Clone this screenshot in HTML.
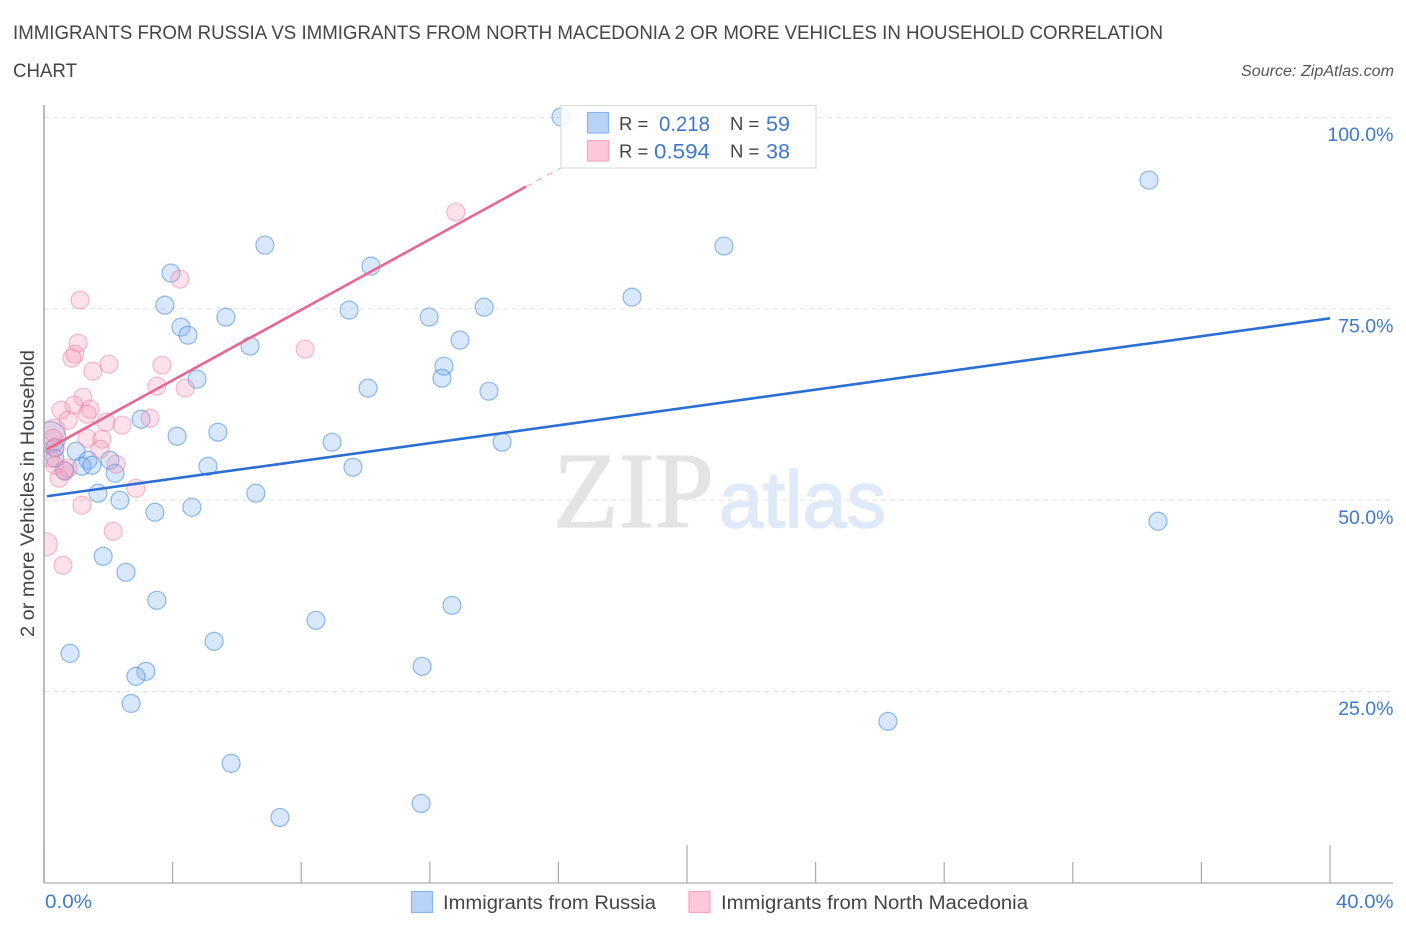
<!DOCTYPE html>
<html lang="en">
<head>
<meta charset="utf-8">
<title>Immigrants from Russia vs Immigrants from North Macedonia correlation chart</title>
<style>
  html, body { margin: 0; padding: 0; background: #fff; width: 1406px; height: 930px; overflow: hidden; }
  svg { display: block; font-family: "Liberation Sans", sans-serif; }
</style>
</head>
<body>
<svg id="chart" width="1406" height="930" viewBox="0 0 1406 930" xmlns="http://www.w3.org/2000/svg">
  <defs>
    <clipPath id="plot-clip"><rect x="44.5" y="100" width="1360" height="783"></rect></clipPath>
  </defs>
  <rect x="0" y="0" width="1406" height="930" fill="#fff"></rect>

  <text x="13" y="39" font-size="19" fill="#444" textLength="1150" lengthAdjust="spacingAndGlyphs">IMMIGRANTS FROM RUSSIA VS IMMIGRANTS FROM NORTH MACEDONIA 2 OR MORE VEHICLES IN HOUSEHOLD CORRELATION</text>
  <text x="13" y="77" font-size="19" fill="#444" textLength="64" lengthAdjust="spacingAndGlyphs">CHART</text>
  <text x="1394" y="76" font-size="15.5" font-style="italic" fill="#555" text-anchor="end" textLength="153" lengthAdjust="spacingAndGlyphs">Source: ZipAtlas.com</text>

  <g id="grid"></g>

  <g>
    <text x="553" y="527" font-family="'Liberation Serif', serif" font-size="108" fill="#e4e4e4" stroke="#e4e4e4" stroke-width="1.2" textLength="161" lengthAdjust="spacingAndGlyphs">ZIP</text>
    <text x="719" y="527" font-size="80" fill="#dfe9f8" stroke="#dfe9f8" stroke-width="1.6" textLength="167" lengthAdjust="spacingAndGlyphs">atlas</text>
  </g>

  <g id="axes">
    <line x1="44" y1="105" x2="44" y2="883" stroke="#aaa" stroke-width="1.6"></line>
    <line x1="44" y1="883" x2="1393" y2="883" stroke="#bbb" stroke-width="1.6"></line>
  </g>

  <g id="points" clip-path="url(#plot-clip)"></g>
  <g id="trends"></g>

  <text transform="translate(34,493.5) rotate(-90)" font-size="19" fill="#444" text-anchor="middle" textLength="287" lengthAdjust="spacingAndGlyphs">2 or more Vehicles in Household</text>

  <g>
    <rect x="561" y="105.5" width="255" height="62.5" fill="#fff" fill-opacity="0.85" stroke="#ddd" stroke-width="1.2"></rect>
    <rect x="587.5" y="112.5" width="21" height="20.5" fill="#b9d3f7" stroke="#8cb4ec" stroke-width="1.2"></rect>
    <rect x="587.5" y="140.5" width="21" height="20.5" fill="#fcc8d9" stroke="#f4a5bf" stroke-width="1.2"></rect>
    <text x="619" y="130" font-size="18.5" fill="#444">R =</text>
    <text x="659" y="131" font-size="21" fill="#3f78cc" textLength="51" lengthAdjust="spacingAndGlyphs">0.218</text>
    <text x="730" y="130" font-size="18.5" fill="#444">N =</text>
    <text x="766" y="131" font-size="21" fill="#3f78cc" textLength="24" lengthAdjust="spacingAndGlyphs">59</text>
    <text x="619" y="157.5" font-size="18.5" fill="#444">R =</text>
    <text x="654" y="158.5" font-size="21" fill="#3f78cc" textLength="56" lengthAdjust="spacingAndGlyphs">0.594</text>
    <text x="730" y="157.5" font-size="18.5" fill="#444">N =</text>
    <text x="766" y="158.5" font-size="21" fill="#3f78cc" textLength="24" lengthAdjust="spacingAndGlyphs">38</text>
  </g>

  <g>
    <g>
      <rect x="411.5" y="891.5" width="21" height="21" fill="#b9d3f7" stroke="#8cb4ec" stroke-width="1.2"></rect>
      <text x="443" y="909" font-size="19" fill="#444" textLength="213" lengthAdjust="spacingAndGlyphs">Immigrants from Russia</text>
    </g>
    <g>
      <rect x="689" y="891.5" width="21" height="21" fill="#fcc8d9" stroke="#f4a5bf" stroke-width="1.2"></rect>
      <text x="721" y="909" font-size="19" fill="#444" textLength="307" lengthAdjust="spacingAndGlyphs">Immigrants from North Macedonia</text>
    </g>
  </g>
</svg>

<script>
// ---- chart data (x = percent on horizontal axis, y = percent on vertical axis) ----
const xTickValues = [0, 4, 8, 12, 16, 20, 24, 28, 32, 36, 40];
const xMajorTicks = [0, 20, 40];
const xTickLabels = ["0.0%", "40.0%"];
const yTickValues = [100, 75, 50, 25];
const yTickLabels = ["100.0%", "75.0%", "50.0%", "25.0%"];

const russiaX = [16.08,34.37,6.87,21.15,10.17,3.95,18.29,3.76,9.49,13.69,5.66,11.98,4.26,4.48,12.94,6.41,12.44,12.38,4.76,10.08,13.84,3.02,4.14,5.41,8.96,14.25,0.19,1.00,0.34,0.34,1.37,1.18,1.49,2.05,5.10,9.61,0.65,2.21,1.68,6.59,2.36,4.60,3.45,34.65,1.84,2.55,3.51,12.69,8.46,5.29,0.81,11.76,3.17,2.86,2.71,26.25,5.82,11.73,7.34];
const russiaY = [100,91.76,83.27,83.14,80.52,79.61,76.47,75.42,74.77,75.16,73.86,73.86,72.55,71.50,70.85,70.07,67.45,65.88,65.75,64.58,64.18,60.52,58.30,58.82,57.52,57.52,58.17,56.34,56.73,55.42,55.16,54.38,54.51,55.16,54.38,54.25,53.73,53.46,50.85,50.85,49.93,49.02,48.37,47.19,42.61,40.52,36.86,36.21,34.25,31.50,29.93,28.24,27.58,26.93,23.40,21.05,15.56,10.33,8.50];
const russiaWeight = [1,1,1,1,1,1,1,1,1,1,1,1,1,1,1,1,1,1,1,1,1,1,1,1,1,1,3.0,1,1,1,1,1,1,1,1,1,1,1,1,1,1,1,1,1,1,1,1,1,1,1,1,1,1,1,1,1,1,1,1];

const macedoniaX = [12.81,4.23,1.12,8.12,1.06,0.96,0.87,2.02,3.67,1.52,3.51,4.39,1.21,0.93,1.43,0.53,1.34,0.75,1.93,2.43,3.30,1.34,1.80,1.74,0.31,0.28,0.19,0.34,0.34,0.75,0.47,2.24,2.86,1.18,2.15,0.59,0.05,0.62];
const macedoniaY = [87.58,78.82,76.08,69.67,70.46,69.02,68.50,67.71,67.58,66.80,64.84,64.58,63.40,62.35,61.83,61.70,61.18,60.39,60.13,59.74,60.65,58.04,57.91,56.60,59.08,58.04,55.42,56.86,54.51,54.12,52.81,54.64,51.50,49.28,45.88,41.44,44.18,53.86];
const macedoniaWeight = [1,1,1,1,1,1,1,1,1,1,1,1,1,1,1,1,1,1,1,1,1,1,1,1,1.5,1,1,1,1,1,1,1,1,1,1,1,1.7,1];

const russiaTrendX = [0.09, 40];
const russiaTrendY = [50.46, 73.7];
const macedoniaTrendX = [0.09, 14.99];
const macedoniaTrendY = [56.6, 90.9];
const macedoniaTrendDashX = [14.99, 19.03];
const macedoniaTrendDashY = [90.9, 100];

// ---- axis functions ----
const xScale = function (v) { return 44 + v * 32.15; };
const yScale = function (v) { return 882.5 - v * 7.655; };
const radiusScale = function (w) { return 9 * Math.sqrt(w); };

const SVG_NS = "http://www.w3.org/2000/svg";
function make(tag, parent) {
  const el = document.createElementNS(SVG_NS, tag);
  parent.appendChild(el);
  return el;
}

const gridLayer = document.getElementById("grid");
const axesLayer = document.getElementById("axes");
const pointsLayer = document.getElementById("points");
const trendsLayer = document.getElementById("trends");

// gridlines + y tick labels
yTickValues.forEach(function (v, i) {
  const line = make("line", gridLayer);
  
  
  line.setAttribute("x1", 44);
  line.setAttribute("x2", 1393);
  line.setAttribute("y1", yScale(v) + 0.4);
  line.setAttribute("y2", yScale(v) + 0.4);
  line.setAttribute("stroke", "#e2e2e2");
  line.setAttribute("stroke-width", "1");
  line.setAttribute("stroke-dasharray", "5 4");

  const label = make("text", axesLayer);
  
  
  label.setAttribute("x", 1393.5);
  label.setAttribute("y", yScale(v) + 24);
  label.setAttribute("font-size", "19.5");
  label.setAttribute("fill", "#3f78cc");
  label.setAttribute("text-anchor", "end");
  label.textContent = yTickLabels[i];
});

// x ticks
xTickValues.forEach(function (v) {
  const tick = make("line", axesLayer);
  
  
  tick.setAttribute("x1", xScale(v));
  tick.setAttribute("x2", xScale(v));
  tick.setAttribute("y1", 883);
  tick.setAttribute("y2", xMajorTicks.indexOf(v) >= 0 ? 845 : 862);
  tick.setAttribute("stroke", "#aaa");
  tick.setAttribute("stroke-width", "1.2");
});

// x tick labels
const xLabelLeft = make("text", axesLayer);


xLabelLeft.setAttribute("x", 45);
xLabelLeft.setAttribute("y", 908);
xLabelLeft.setAttribute("font-size", "19.5");
xLabelLeft.setAttribute("fill", "#3f78cc");
xLabelLeft.setAttribute("textLength", "47");
xLabelLeft.setAttribute("lengthAdjust", "spacingAndGlyphs");
xLabelLeft.textContent = xTickLabels[0];

const xLabelRight = make("text", axesLayer);


xLabelRight.setAttribute("x", 1336);
xLabelRight.setAttribute("y", 908);
xLabelRight.setAttribute("font-size", "19.5");
xLabelRight.setAttribute("fill", "#3f78cc");
xLabelRight.setAttribute("textLength", "57.5");
xLabelRight.setAttribute("lengthAdjust", "spacingAndGlyphs");
xLabelRight.textContent = xTickLabels[1];

// points
russiaX.forEach(function (v, i) {
  const c = make("circle", pointsLayer);
  
  
  c.setAttribute("cx", xScale(v));
  c.setAttribute("cy", yScale(russiaY[i]));
  c.setAttribute("r", radiusScale(russiaWeight[i]));
  c.setAttribute("fill", "#7fafee");
  c.setAttribute("fill-opacity", "0.3");
  c.setAttribute("stroke", "#3d85e0");
  c.setAttribute("stroke-opacity", "0.55");
  c.setAttribute("stroke-width", "1.2");
});

macedoniaX.forEach(function (v, i) {
  const c = make("circle", pointsLayer);
  
  
  c.setAttribute("cx", xScale(v));
  c.setAttribute("cy", yScale(macedoniaY[i]));
  c.setAttribute("r", radiusScale(macedoniaWeight[i]));
  c.setAttribute("fill", "#f59ab8");
  c.setAttribute("fill-opacity", "0.3");
  c.setAttribute("stroke", "#ea7ea3");
  c.setAttribute("stroke-opacity", "0.5");
  c.setAttribute("stroke-width", "1.2");
});

// trend lines
const russiaTrend = make("line", trendsLayer);


russiaTrend.setAttribute("x1", xScale(russiaTrendX[0]));
russiaTrend.setAttribute("y1", yScale(russiaTrendY[0]));
russiaTrend.setAttribute("x2", xScale(russiaTrendX[1]));
russiaTrend.setAttribute("y2", yScale(russiaTrendY[1]));
russiaTrend.setAttribute("stroke", "#2b6fd4");
russiaTrend.setAttribute("stroke-width", "2.6");

const macedoniaTrend = make("line", trendsLayer);


macedoniaTrend.setAttribute("x1", xScale(macedoniaTrendX[0]));
macedoniaTrend.setAttribute("y1", yScale(macedoniaTrendY[0]));
macedoniaTrend.setAttribute("x2", xScale(macedoniaTrendX[1]));
macedoniaTrend.setAttribute("y2", yScale(macedoniaTrendY[1]));
macedoniaTrend.setAttribute("stroke", "#e8658f");
macedoniaTrend.setAttribute("stroke-width", "2.6");

const macedoniaDash = make("line", trendsLayer);


macedoniaDash.setAttribute("x1", xScale(macedoniaTrendDashX[0]));
macedoniaDash.setAttribute("y1", yScale(macedoniaTrendDashY[0]));
macedoniaDash.setAttribute("x2", xScale(macedoniaTrendDashX[1]));
macedoniaDash.setAttribute("y2", yScale(macedoniaTrendDashY[1]));
macedoniaDash.setAttribute("stroke", "#efa0bb");
macedoniaDash.setAttribute("stroke-width", "1");
macedoniaDash.setAttribute("stroke-dasharray", "6 6");
</script>
</body>
</html>
